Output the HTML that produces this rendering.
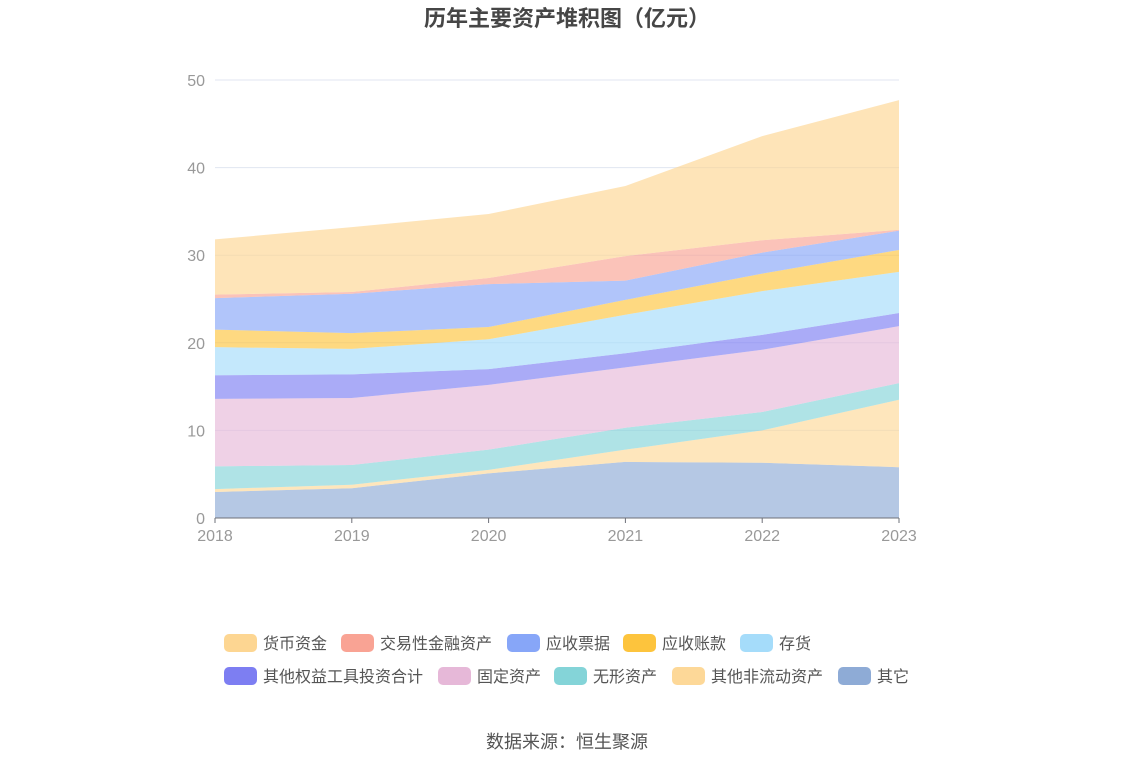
<!DOCTYPE html>
<html><head><meta charset="utf-8"><style>
body{margin:0;background:#fff;font-family:"Liberation Sans","Noto Sans CJK SC",sans-serif;}
#wrap{position:relative;width:1134px;height:766px;overflow:hidden;}
</style></head><body>
<div id="wrap">
<svg id="chart" width="1134" height="766"></svg>
</div>
<script>
const years=["2018","2019","2020","2021","2022","2023"];
const seriesNames=["其它","其他非流动资产","无形资产","固定资产","其他权益工具投资合计","存货","应收账款","应收票据","交易性金融资产","货币资金"];
const sOther=[2.97,3.4,5.1,6.4,6.3,5.8];
const sNonCurrent=[0.33,0.4,0.4,1.4,3.7,7.7];
const sIntangible=[2.6,2.25,2.3,2.5,2.1,1.9];
const sFixed=[7.7,7.65,7.4,6.9,7.1,6.5];
const sEquityInv=[2.7,2.7,1.8,1.6,1.7,1.5];
const sInventory=[3.2,2.9,3.4,4.4,5.0,4.7];
const sReceivable=[2.0,1.8,1.4,1.7,2.0,2.5];
const sNotes=[3.6,4.5,4.9,2.2,2.4,2.2];
const sTrading=[0.4,0.2,0.7,2.8,1.4,0.1];
const sCash=[6.3,7.4,7.3,8.0,11.9,14.8];
const yTicks=[0,10,20,30,40,50];
const seriesData=[sOther,sNonCurrent,sIntangible,sFixed,sEquityInv,sInventory,sReceivable,sNotes,sTrading,sCash];
const colors=["#8eabd6","#fdd898","#84d4d8","#e6b8d8","#7d7ef2","#a5dcfa","#fdc43d","#87a6f8","#f9a394","#fdd692"];
const NS="http://www.w3.org/2000/svg";
const svg=document.getElementById('chart');
const X0=215,X1=899,Y0=518,Y1=80;
const xs=i=>X0+(X1-X0)*i/(years.length-1);
const ys=v=>Y0-(Y0-Y1)*v/50;
function mk(t,a){const e=document.createElementNS(NS,t);for(const k in a)e.setAttribute(k,a[k]);svg.appendChild(e);return e;}
let t=mk('text',{x:567,y:26,'text-anchor':'middle','font-size':22,'font-weight':'bold',fill:'#464646'});t.textContent='历年主要资产堆积图（亿元）';


yTicks.forEach(v=>{
 if(v>0){const g=mk('line',{x1:X0,x2:X1,y1:ys(v),y2:ys(v),stroke:'#e0e6f1'});
 
 }
 const l=mk('text',{x:205,y:ys(v)+6,'text-anchor':'end','font-size':16,fill:'#999'});l.textContent=v;
 
 
});
const cum=years.map(()=>0);
seriesData.forEach((arr,si)=>{
 const lower=cum.slice();
 arr.forEach((v,i)=>cum[i]+=v);
 let d='M'+years.map((_,i)=>xs(i)+','+ys(cum[i])).join('L');
 for(let i=years.length-1;i>=0;i--)d+='L'+xs(i)+','+ys(lower[i]);
 const p=mk('path',{d:d+'Z',fill:colors[si],'fill-opacity':0.65});
 
 
});
const ax=mk('line',{x1:X0,x2:X1,y1:Y0,y2:Y0,stroke:'#6e7079'});


years.forEach((y,i)=>{
 const tk=mk('line',{x1:xs(i),x2:xs(i),y1:Y0,y2:Y0+5,stroke:'#6e7079'});
 
 
 const l=mk('text',{x:xs(i),y:541,'text-anchor':'middle','font-size':16,fill:'#999'});l.textContent=y;
 
 
});
const legendOrder=[9,8,7,6,5,4,3,2,1,0];
const legX=[224,341,507,623,740,224,438,554,672,838];
legendOrder.forEach((si,k)=>{
 const y=k<5?643:676;
 const r=mk('rect',{x:legX[k],y:y-9,width:33,height:18,rx:5,fill:colors[si]});
 
 
 const l=mk('text',{x:legX[k]+39,y:y+6,'font-size':16,fill:'#555'});l.textContent=seriesNames[si];
 
 
});
t=mk('text',{x:567,y:748,'text-anchor':'middle','font-size':18,fill:'#555'});t.textContent='数据来源：恒生聚源';


</script>
</body></html>
